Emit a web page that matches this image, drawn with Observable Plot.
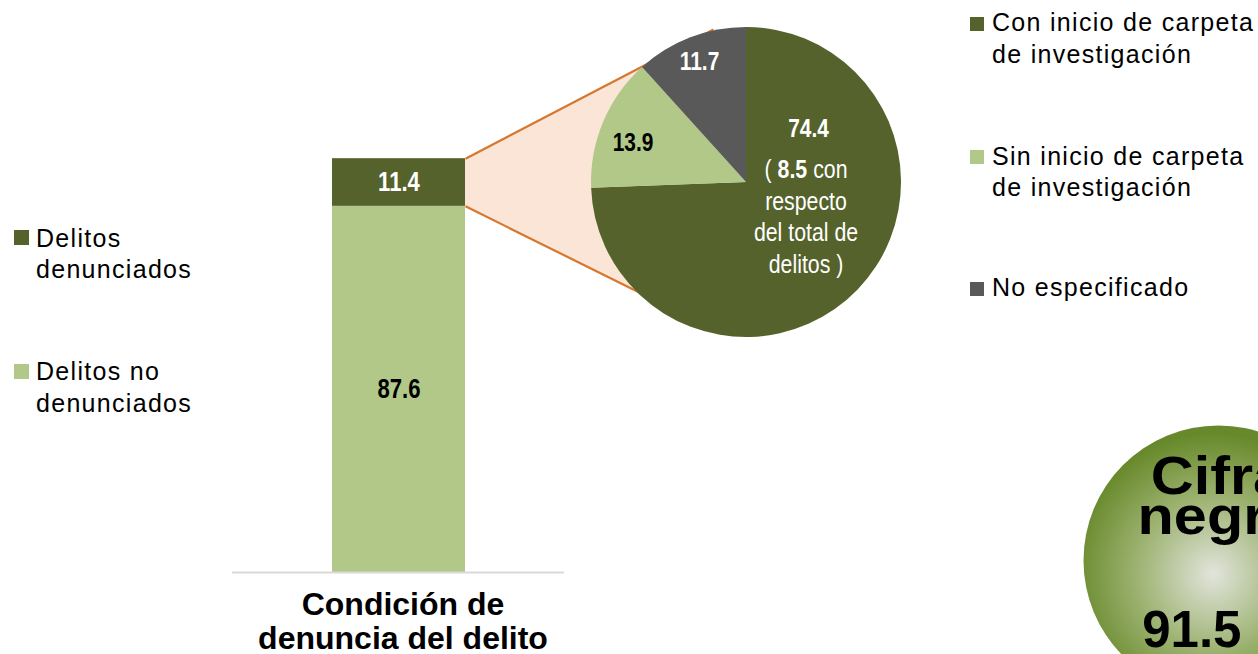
<!DOCTYPE html>
<html lang="es">
<head>
<meta charset="utf-8">
<script src="https://cdn.jsdelivr.net/npm/d3@7"></script>
<script src="https://cdn.jsdelivr.net/npm/@observablehq/plot@0.6"></script>
<style>
html,body{margin:0;padding:0;background:#fff;}
#chart{position:relative;width:1258px;height:654px;overflow:hidden;background:#fff;font-family:"Liberation Sans",Arial,sans-serif;color:#000;}
#chart svg{position:absolute;}
.lg{position:absolute;font-size:25px;letter-spacing:1.3px;line-height:31.5px;white-space:nowrap;}
.sq{position:absolute;}
</style>
</head>
<body>
<div id="chart"></div>
<script>
// ---------------- DATA ----------------
const barCategories = ["Condición de denuncia del delito"];
const barSeries = ["Delitos no denunciados", "Delitos denunciados"];
const barValues = [87.6, 11.4];
const pieCategories = ["Con inicio de carpeta de investigación", "Sin inicio de carpeta de investigación", "No especificado"];
const pieValues = [74.4, 13.9, 11.7];
const pieNoteValue = 8.5; // con respecto del total de delitos
const pieNoteText = "( {v} con\nrespecto\ndel total de\ndelitos )";
const cifraNegraLabel = "Cifra negra";
const cifraNegraValue = 91.5;
const leftLegendOrder = ["Delitos denunciados", "Delitos no denunciados"];

// ---------------- STYLE / LAYOUT ----------------
const C = {dark: "#55622B", light: "#B1C888", gray: "#595959", peach: "#FBE5D6", orange: "#D5772F", axis: "#D9D9D9"};
const SANS = '"Liberation Sans", Arial, sans-serif';
const NARROW = '"Liberation Sans Narrow", "Arial Narrow", "Liberation Sans", sans-serif';
const NARROW_K = 0.82;   // horizontal condensing for narrow labels
const barColor = {"Delitos no denunciados": C.light, "Delitos denunciados": C.dark};
const barTextColor = {"Delitos no denunciados": "#000", "Delitos denunciados": "#fff"};
const pieColors = [C.dark, C.light, C.gray];
const pieTextColors = ["#fff", "#000", "#fff"];
const L = {
  bar: {left: 232, top: 0, width: 332, height: 654, marginTop: 154, marginBottom: 82, padding: 0.428},
  pie: {left: 590.5, top: 27.3, size: 310},
  pieLabelAt: [[0.40, 0.345], [-0.732, 0.255], [-0.303, 0.778]],
  pieNoteAt: [0.384, 0.175],
  connTo: [[-0.21, 0.989], [-0.21, -0.945]],
  cifra: {left: 1083, top: 425, size: 270},
  cifraLabelAt: [0, 0.702],
  cifraValueAt: [-0.565, -0.519]
};

const chart = document.getElementById("chart");
function place(el, left, top) { el.style.left = left + "px"; el.style.top = top + "px"; return el; }
function condense(svg, selector, k) {
  d3.select(svg).selectAll(selector).each(function() {
    const b = this.getBBox();
    const cx = b.x + b.width / 2;
    const tr = this.getAttribute("transform") || "";
    this.setAttribute("transform", `${tr} translate(${cx},0) scale(${k},1) translate(${-cx},0)`);
  });
}

// ---------------- BAR ----------------
const barData = barSeries.map((s, i) => ({categoria: barCategories[0], serie: s, valor: barValues[i]}));
const barPlot = Plot.plot({
  width: L.bar.width, height: L.bar.height,
  marginTop: L.bar.marginTop, marginBottom: L.bar.marginBottom, marginLeft: 0, marginRight: 0,
  style: {background: "none", overflow: "visible", fontFamily: SANS},
  x: {domain: barCategories, padding: L.bar.padding, axis: null},
  y: {domain: [0, 100], axis: null},
  color: {type: "identity"},
  marks: [
    Plot.barY(barData, Plot.stackY({x: "categoria", y: "valor", fill: d => barColor[d.serie]})),
    Plot.ruleY([0], {stroke: C.axis, strokeWidth: 2}),
    Plot.text(barData, Plot.stackY({x: "categoria", y: "valor", text: d => d.valor.toFixed(1),
      fill: d => barTextColor[d.serie], fontSize: 27, fontWeight: "bold", fontFamily: NARROW})),
    Plot.axisX({tickSize: 0, tickPadding: 18, fontSize: 32, fontWeight: "bold", lineHeight: 1.06, dx: 4,
      fill: "#000", label: null, tickFormat: d => d.replace(" denuncia", "\ndenuncia")})
  ]
});

// ---------------- PIE ----------------
const pieData = pieCategories.map((c, i) => ({categoria: c, valor: pieValues[i]}));
const arcs = d3.pie().sort(null).value(d => d.valor)(pieData);
const piePlot = Plot.plot({
  width: L.pie.size, height: L.pie.size, margin: 0,
  style: {background: "none", overflow: "visible", fontFamily: SANS},
  x: {domain: [-1, 1], axis: null},
  y: {domain: [-1, 1], axis: null},
  color: {type: "identity"},
  marks: [
    (index, scales) => {
      const {x, y} = scales;
      const r = x(1) - x(0);
      const arc = d3.arc().innerRadius(0).outerRadius(r);
      const g = d3.create("svg:g").attr("transform", `translate(${x(0)},${y(0)})`);
      g.selectAll("path").data(arcs).join("path")
        .attr("d", arc).attr("fill", d => pieColors[d.index]);
      return g.node();
    },
    Plot.text(pieData, {x: (d, i) => L.pieLabelAt[i][0], y: (d, i) => L.pieLabelAt[i][1],
      text: d => d.valor.toFixed(1), fill: (d, i) => pieTextColors[i], fontSize: 25.5, fontWeight: "bold", fontFamily: NARROW}),
    Plot.text([pieNoteValue], {x: L.pieNoteAt[0], y: L.pieNoteAt[1], lineAnchor: "top", lineHeight: 1.22,
      text: d => pieNoteText.replace("{v}", d.toFixed(1)), fill: "#fff", fontSize: 26, fontFamily: NARROW})
  ]
});
// bold the value inside the note line
d3.select(piePlot).selectAll("tspan").filter(function() {
  return this.textContent.includes(pieNoteValue.toFixed(1));
}).each(function() {
  const t = d3.select(this);
  const parts = this.textContent.split(pieNoteValue.toFixed(1));
  t.text("");
  t.append("tspan").text(parts[0]);
  t.append("tspan").attr("font-weight", "bold").text(pieNoteValue.toFixed(1));
  t.append("tspan").text(parts[1]);
});

// ---------------- CONNECTORS ----------------
const xb = barPlot.scale("x"), yb = barPlot.scale("y");
const xp = piePlot.scale("x"), yp = piePlot.scale("y");
const barRight = L.bar.left + xb.apply(barCategories[0]) + xb.bandwidth;
const yTop = L.bar.top + yb.apply(d3.sum(barValues));
const yJoin = L.bar.top + yb.apply(barValues[0]);
const pT = [L.pie.left + xp.apply(L.connTo[0][0]), L.pie.top + yp.apply(L.connTo[0][1])];
const pB = [L.pie.left + xp.apply(L.connTo[1][0]), L.pie.top + yp.apply(L.connTo[1][1])];
const connPlot = Plot.plot({
  width: 1258, height: 654, margin: 0,
  style: {background: "none"},
  x: {type: "identity", axis: null}, y: {type: "identity", axis: null},
  marks: [
    Plot.areaY([{x: barRight, y1: yTop, y2: yJoin}, {x: pT[0], y1: pT[1], y2: pB[1]}],
      {x: "x", y1: "y1", y2: "y2", fill: C.peach}),
    Plot.link([{x1: barRight, y1: yTop, x2: pT[0], y2: pT[1]}, {x1: barRight, y1: yJoin, x2: pB[0], y2: pB[1]}],
      {x1: "x1", y1: "y1", x2: "x2", y2: "y2", stroke: C.orange, strokeWidth: 2.2})
  ]
});

// ---------------- CIFRA NEGRA ----------------
const cifraPlot = Plot.plot({
  width: L.cifra.size, height: L.cifra.size, margin: 0,
  style: {background: "none", overflow: "visible", fontFamily: SANS},
  x: {domain: [-1, 1], axis: null}, y: {domain: [-1, 1], axis: null},
  marks: [
    () => {
      const defs = d3.create("svg:defs");
      const g = defs.append("radialGradient").attr("id", "cnGrad")
        .attr("cx", "48%").attr("cy", "55%").attr("r", "52%");
      g.append("stop").attr("offset", "0%").attr("stop-color", "#e2e4dc");
      g.append("stop").attr("offset", "55%").attr("stop-color", "#9cb270");
      g.append("stop").attr("offset", "100%").attr("stop-color", "#68892b");
      return defs.node();
    },
    Plot.dot([cifraNegraValue], {x: 0, y: 0, r: L.cifra.size / 2, fill: "url(#cnGrad)"}),
    Plot.text([cifraNegraLabel], {x: L.cifraLabelAt[0], y: L.cifraLabelAt[1], text: d => d.replace(" ", "\n"),
      lineAnchor: "top", lineHeight: 0.74, fontSize: 54, fontWeight: "bold", fill: "#000"}),
    Plot.text([cifraNegraValue], {x: L.cifraValueAt[0], y: L.cifraValueAt[1], text: d => d.toFixed(1),
      textAnchor: "start", fontSize: 51, fontWeight: "bold", fill: "#000"})
  ]
});

chart.append(place(connPlot, 0, 0));
chart.append(place(barPlot, L.bar.left, L.bar.top));
chart.append(place(piePlot, L.pie.left, L.pie.top));
chart.append(place(cifraPlot, L.cifra.left, L.cifra.top));

condense(barPlot, 'g[font-family*="Narrow"] text', NARROW_K);
condense(piePlot, 'g[font-family*="Narrow"] text', NARROW_K);
condense(cifraPlot, 'g[font-size="54"] text', 1.1);

// ---------------- LEGENDS ----------------
function legendItem(label, color, sqLeft, sqTop, sqSize, textLeft, baseline) {
  const sq = document.createElement("div");
  sq.className = "sq";
  Object.assign(sq.style, {left: sqLeft + "px", top: sqTop + "px", width: sqSize + "px", height: sqSize + "px", background: color});
  const t = document.createElement("div");
  t.className = "lg";
  t.style.left = textLeft + "px";
  t.style.top = (baseline - 24.4) + "px";
  t.innerHTML = label;
  chart.append(sq, t);
}
const leftBase = [247, 380.7];
leftLegendOrder.forEach((s, i) => {
  const html = s.replace(/ denunciados$/, "<br>denunciados");
  legendItem(html, barColor[s], 14, leftBase[i] - 17, 15, 36, leftBase[i]);
});
const rightBase = [31.7, 165, 296.7];
pieCategories.forEach((c, i) => {
  const html = c.replace(" de investigación", "<br>de investigación");
  legendItem(html, pieColors[i], 970, rightBase[i] - 14.7, 14, 992, rightBase[i]);
});
</script>
</body>
</html>
